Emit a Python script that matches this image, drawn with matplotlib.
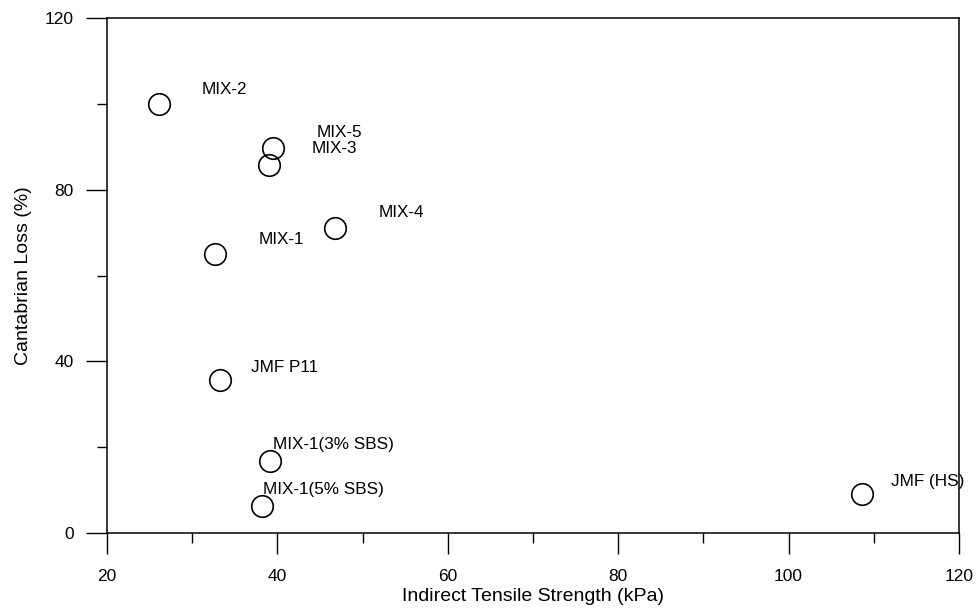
import matplotlib
matplotlib.use("Agg")
import matplotlib.pyplot as plt

# mix data
names = ["MIX-2", "MIX-5", "MIX-3", "MIX-4", "MIX-1", "JMF P11",
         "MIX-1(3% SBS)", "MIX-1(5% SBS)", "JMF (HS)"]
its = [26.1, 39.5, 39.0, 46.8, 32.7, 33.3, 39.1, 38.2, 108.6]
loss = [100.0, 89.7, 85.8, 71.0, 65.0, 35.6, 16.8, 6.3, 9.0]
# label offsets (pixels) from each point
label_dx = [43, 44, 43, 43, 43, 31, 3, 1, 29]
label_dy = [14, 15.5, 16, 16, 15, 13, 16, 16, 13]

plt.rcParams["font.family"] = ["Liberation Sans", "DejaVu Sans"]

fig = plt.figure(figsize=(9.76, 6.15), dpi=100)
ax = fig.add_axes([0.1096, 0.1333, 0.873, 0.8374])

ax.plot(its, loss, "o", markersize=15.5, markerfacecolor="none",
        markeredgecolor="black", markeredgewidth=1.2)

for n, x, y, dx, dy in zip(names, its, loss, label_dx, label_dy):
    ax.annotate(n, (x, y), xytext=(dx, dy), textcoords="offset pixels",
                ha="left", va="center", fontsize=12.3)

ax.set_xlim(20, 120)
ax.set_ylim(0, 120)
ax.set_xticks([20, 40, 60, 80, 100, 120])
ax.set_xticks([30, 50, 70, 90, 110], minor=True)
ax.set_yticks([0, 40, 80, 120])
ax.set_yticks([20, 60, 100], minor=True)
ax.tick_params(which="major", direction="out", length=15, width=1, pad=11, labelsize=12.5)
ax.tick_params(which="minor", direction="out", length=7, width=1)
ax.tick_params(axis="y", which="major", pad=9)

for s in ax.spines.values():
    s.set_linewidth(1.1)

ax.set_xlabel("Indirect Tensile Strength (kPa)", fontsize=14, labelpad=3)
ax.set_ylabel("Cantabrian Loss (%)", fontsize=14, labelpad=9)

fig.savefig("out.png", dpi=100)
